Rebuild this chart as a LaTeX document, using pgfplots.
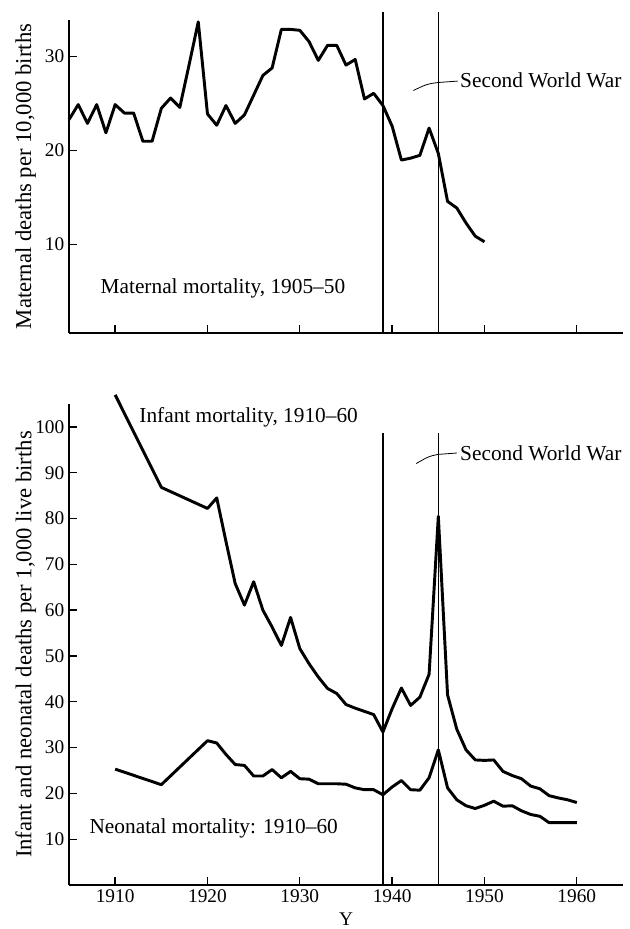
\documentclass[border=0pt]{standalone}
\usepackage{fontspec}
\setmainfont{Liberation Serif}
\usepackage{pgfplots}
\pgfplotsset{compat=1.18}
\newcommand{\fs}{\fontsize{16}{19}\selectfont}
\newcommand{\ft}{\fontsize{14.5}{17}\selectfont}
\newcommand{\fl}{\fontsize{17}{20}\selectfont}
\pgfplotsset{
  mystyle/.style={
    scale only axis,
    width=415.5pt,
    xmin=1905, xmax=1965,
    axis x line*=bottom, axis y line*=left,
    axis line style={-, line width=1.4pt},
    tick align=inside,
    major tick length=6pt,
    tick style={line width=1pt, black},
    xtick={1910,1920,1930,1940,1950,1960},
    /pgf/number format/assume math mode=true,
    /pgf/number format/1000 sep={},
    tick label style={font=\ft},
    xlabel style={font=\ft},
    ylabel style={font=\fl},
    clip=false,
  },
  dat/.style={line width=2.2pt, black, line join=round, mark=none},
  war/.style={line width=1.2pt, black, mark=none},
}
\begin{document}
\begin{tikzpicture}
\path[use as bounding box] (-51.75pt,-33pt) rectangle (420.75pt,663.75pt);
% ---------------- top panel ----------------
\begin{axis}[mystyle,
  at={(0pt,414pt)}, anchor=south west,
  height=234.75pt,
  ymin=0.6, ymax=33.9,
  ytick={10,20,30},
  xticklabels={},
  ylabel={Maternal deaths per 10,000 births},
  ylabel style={at={(axis description cs:-0.078,0.5)}, anchor=center},
]
\addplot[dat] coordinates {
(1905,23.3)(1906,24.9)(1907,22.9)(1908,24.9)(1909,21.9)(1910,24.9)
(1911,24.0)(1912,24.0)(1913,21.0)(1914,21.0)(1915,24.5)(1916,25.6)
(1917,24.6)(1918,29.1)(1919,33.7)(1920,23.9)(1921,22.7)(1922,24.8)
(1923,22.9)(1924,23.8)(1925,25.9)(1926,28.0)(1927,28.8)(1928,32.9)
(1929,32.9)(1930,32.8)(1931,31.6)(1932,29.6)(1933,31.2)(1934,31.2)
(1935,29.1)(1936,29.7)(1937,25.5)(1938,26.1)(1939,24.8)(1940,22.6)
(1941,19.0)(1942,19.2)(1943,19.5)(1944,22.4)(1945,19.7)(1946,14.6)
(1947,13.9)(1948,12.3)(1949,10.9)(1950,10.3)};
\addplot[war] coordinates {(1939,0.6)(1939,34.8)};
\addplot[war] coordinates {(1945,0.6)(1945,34.8)};
\draw[line width=0.6pt] (axis cs:1942.3,26.4) .. controls (axis cs:1943.8,27.1) .. (axis cs:1945,27.25) -- (axis cs:1947.1,27.4);
\node[anchor=west, font=\fs, inner sep=1pt] at (axis cs:1947.2,27.5) {Second World War};
\node[anchor=west, font=\fs, inner sep=0pt] at (axis cs:1908.4,5.3) {Maternal mortality, 1905--50};
\end{axis}
% ---------------- bottom panel ----------------
\begin{axis}[mystyle,
  at={(0pt,0pt)}, anchor=south west,
  height=360.75pt,
  ymin=0, ymax=105,
  ytick={10,20,30,40,50,60,70,80,90,100},
  xlabel={Y},
  ylabel={Infant and neonatal deaths per 1,000 live births},
  ylabel style={at={(axis description cs:-0.078,0.5)}, anchor=center},
  xlabel style={at={(axis description cs:0.5,-0.072)}, anchor=center},
]
\addplot[dat] coordinates {
(1910,107)(1915,86.8)(1920,82.2)(1921,84.5)(1922,75)(1923,65.8)(1924,61.1)
(1925,66.2)(1926,60.0)(1927,56.3)(1928,52.3)(1929,58.4)(1930,51.6)
(1931,48.3)(1932,45.4)(1933,42.9)(1934,41.8)(1935,39.4)(1936,38.6)
(1937,37.9)(1938,37.2)(1939,33.4)(1940,38.5)(1941,43.0)(1942,39.2)
(1943,41.0)(1944,46.0)(1945,80.5)(1946,41.5)(1947,34.0)(1948,29.5)
(1949,27.3)(1950,27.2)(1951,27.3)(1952,24.8)(1953,23.9)(1954,23.2)
(1955,21.6)(1956,21.0)(1957,19.5)(1958,19.0)(1959,18.6)(1960,18.0)};
\addplot[dat] coordinates {
(1910,25.3)(1915,21.9)(1920,31.5)(1921,31.0)(1922,28.5)(1923,26.3)
(1924,26.1)(1925,23.8)(1926,23.8)(1927,25.2)(1928,23.4)(1929,24.8)
(1930,23.2)(1931,23.1)(1932,22.1)(1933,22.1)(1934,22.1)(1935,22.0)
(1936,21.2)(1937,20.8)(1938,20.8)(1939,19.7)(1940,21.4)(1941,22.8)
(1942,20.8)(1943,20.7)(1944,23.4)(1945,29.5)(1946,21.2)(1947,18.6)
(1948,17.3)(1949,16.7)(1950,17.4)(1951,18.3)(1952,17.2)(1953,17.3)
(1954,16.2)(1955,15.4)(1956,15.0)(1957,13.6)(1958,13.6)(1959,13.6)
(1960,13.6)};
\addplot[war] coordinates {(1939,0)(1939,98.7)};
\addplot[war] coordinates {(1945,0)(1945,98.7)};
\draw[line width=0.6pt] (axis cs:1942.6,92.0) .. controls (axis cs:1944,93.6) .. (axis cs:1945,94.0) -- (axis cs:1947.0,94.3);
\node[anchor=west, font=\fs, inner sep=1pt] at (axis cs:1947.2,94.3) {Second World War};
\node[anchor=west, font=\fs, inner sep=0pt] at (axis cs:1912.6,102.2) {Infant mortality, 1910--60};
\node[anchor=west, font=\fs, inner sep=0pt] at (axis cs:1907.2,12.4) {Neonatal mortality: 1910--60};
\end{axis}
\end{tikzpicture}
\end{document}
